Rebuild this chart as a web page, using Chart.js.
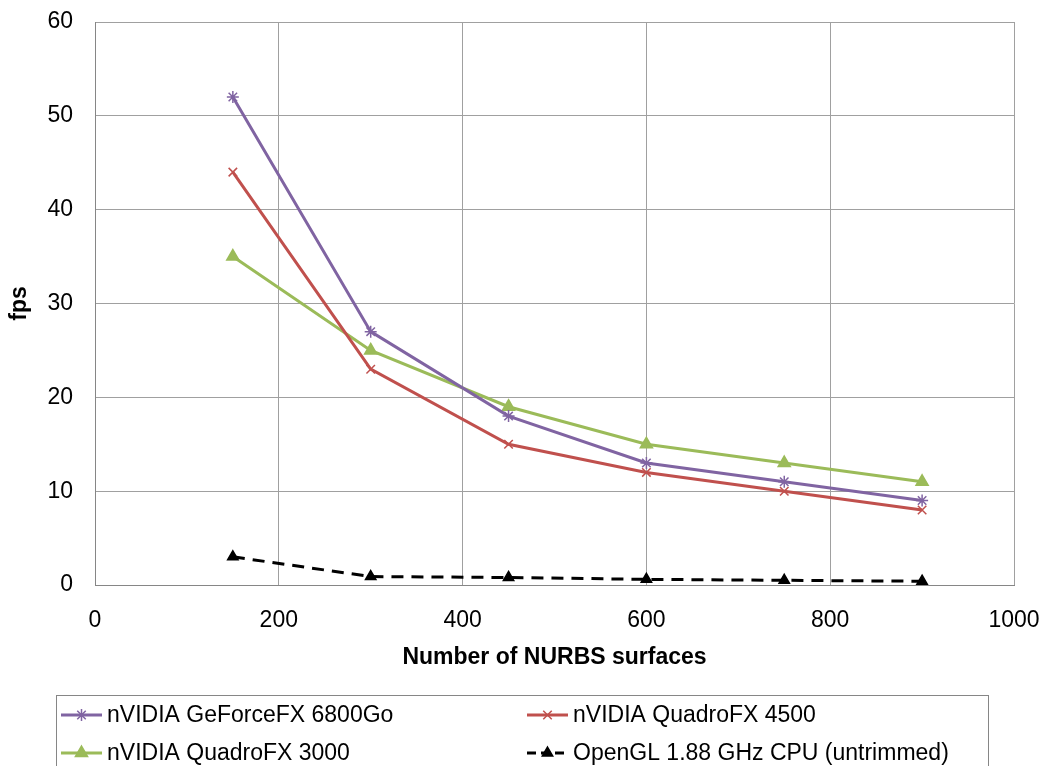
<!DOCTYPE html>
<html>
<head>
<meta charset="utf-8">
<script src="https://cdn.jsdelivr.net/npm/chart.js"></script>
<style>
  html, body { margin: 0; padding: 0; background: #fff; }
  #wrap { width: 1043px; height: 766px; }
</style>
</head>
<body>
<div id="wrap"><canvas id="chart" width="1043" height="766"></canvas></div>
<script>
// values
const surfaces = [150, 300, 450, 600, 750, 900];
const geforce6800 = [52, 27, 18, 13, 11, 9];
const quadro4500 = [44, 23, 15, 12, 10, 8];
const quadro3000 = [35, 25, 19, 15, 13, 11];
const openglCpu = [3, 0.9, 0.8, 0.6, 0.5, 0.4];

const seriesNames = [
  'nVIDIA GeForceFX 6800Go',
  'nVIDIA QuadroFX 4500',
  'nVIDIA QuadroFX 3000',
  'OpenGL 1.88 GHz CPU (untrimmed)'
];

const FONT = 'Liberation Sans, Arial, sans-serif';
const toPoints = vals => vals.map((v, i) => ({ x: surfaces[i], y: v }));

function series(label, vals, color, style, radius, dash) {
  return {
    label,
    data: toPoints(vals),
    borderColor: color,
    backgroundColor: color,
    borderWidth: 3,
    borderDash: dash || [],
    pointStyle: style,
    pointRadius: radius,
    pointBorderWidth: 1.5,
    pointBorderColor: color,
    pointBackgroundColor: color,
    tension: 0,
    fill: false
  };
}

// legend drawn as a boxed two-column block like the original
const boxLegend = {
  id: 'boxLegend',
  afterDraw(chart) {
    const ctx = chart.ctx;
    ctx.save();
    ctx.strokeStyle = '#868686';
    ctx.lineWidth = 1;
    ctx.strokeRect(56.5, 695.5, 932, 100);
    const cols = [61, 527];
    const rows = [715, 753];
    chart.data.datasets.forEach((ds, k) => {
      const x0 = cols[k % 2];
      const y = rows[Math.floor(k / 2)];
      ctx.save();
      ctx.strokeStyle = ds.borderColor;
      ctx.lineWidth = 3;
      ctx.setLineDash(ds.borderDash.length ? [9, 5] : []);
      ctx.beginPath();
      ctx.moveTo(x0, y);
      ctx.lineTo(x0 + 41, y);
      ctx.stroke();
      ctx.setLineDash([]);
      ctx.fillStyle = ds.borderColor;
      ctx.lineWidth = 1.5;
      Chart.helpers.drawPoint(ctx, { pointStyle: ds.pointStyle, radius: ds.pointRadius, rotation: 0, borderWidth: 1.5 }, x0 + 20.5, y);
      ctx.restore();
      ctx.fillStyle = '#000';
      ctx.font = '23px ' + FONT;
      ctx.textBaseline = 'middle';
      ctx.textAlign = 'left';
      ctx.fillText(ds.label, x0 + 46, y + 1);
    });
    ctx.restore();
  }
};

new Chart(document.getElementById('chart'), {
  type: 'line',
  data: {
    datasets: [
      series(seriesNames[0], geforce6800, '#8064A2', 'star', 6),
      series(seriesNames[1], quadro4500, '#C0504D', 'crossRot', 6),
      series(seriesNames[2], quadro3000, '#9BBB59', 'triangle', 7),
      series(seriesNames[3], openglCpu, '#000000', 'triangle', 6, [12, 8])
    ]
  },
  options: {
    responsive: false,
    animation: false,
    devicePixelRatio: 1,
    layout: { padding: { left: 0, right: 29, top: 22, bottom: 81 } },
    plugins: {
      legend: { display: false },
      tooltip: { enabled: false }
    },
    scales: {
      x: {
        type: 'linear',
        min: 0,
        max: 1000,
        afterFit: s => { s.height = 100; s.paddingLeft = 0; s.paddingRight = 0; },
        ticks: {
          stepSize: 200, padding: 22, color: '#000',
          font: { family: FONT, size: 23 },
          callback: v => String(v)
        },
        grid: { color: '#a0a0a0', lineWidth: 1, drawTicks: false },
        border: { color: '#868686', width: 1 },
        title: {
          display: true,
          text: 'Number of NURBS surfaces',
          color: '#000',
          font: { family: FONT, size: 23, weight: 'bold' },
          padding: { top: 14, bottom: 14 }
        }
      },
      y: {
        min: 0,
        max: 60,
        afterFit: s => { s.width = 95; s.paddingTop = 0; s.paddingBottom = 0; },
        ticks: { stepSize: 10, padding: 22, color: '#000', font: { family: FONT, size: 23 } },
        grid: { color: '#a0a0a0', lineWidth: 1, drawTicks: false },
        border: { color: '#868686', width: 1 },
        title: {
          display: true,
          text: 'fps',
          color: '#000',
          font: { family: FONT, size: 23, weight: 'bold' },
          padding: { top: 6, bottom: 6 }
        }
      }
    }
  },
  plugins: [boxLegend]
});
</script>
</body>
</html>
